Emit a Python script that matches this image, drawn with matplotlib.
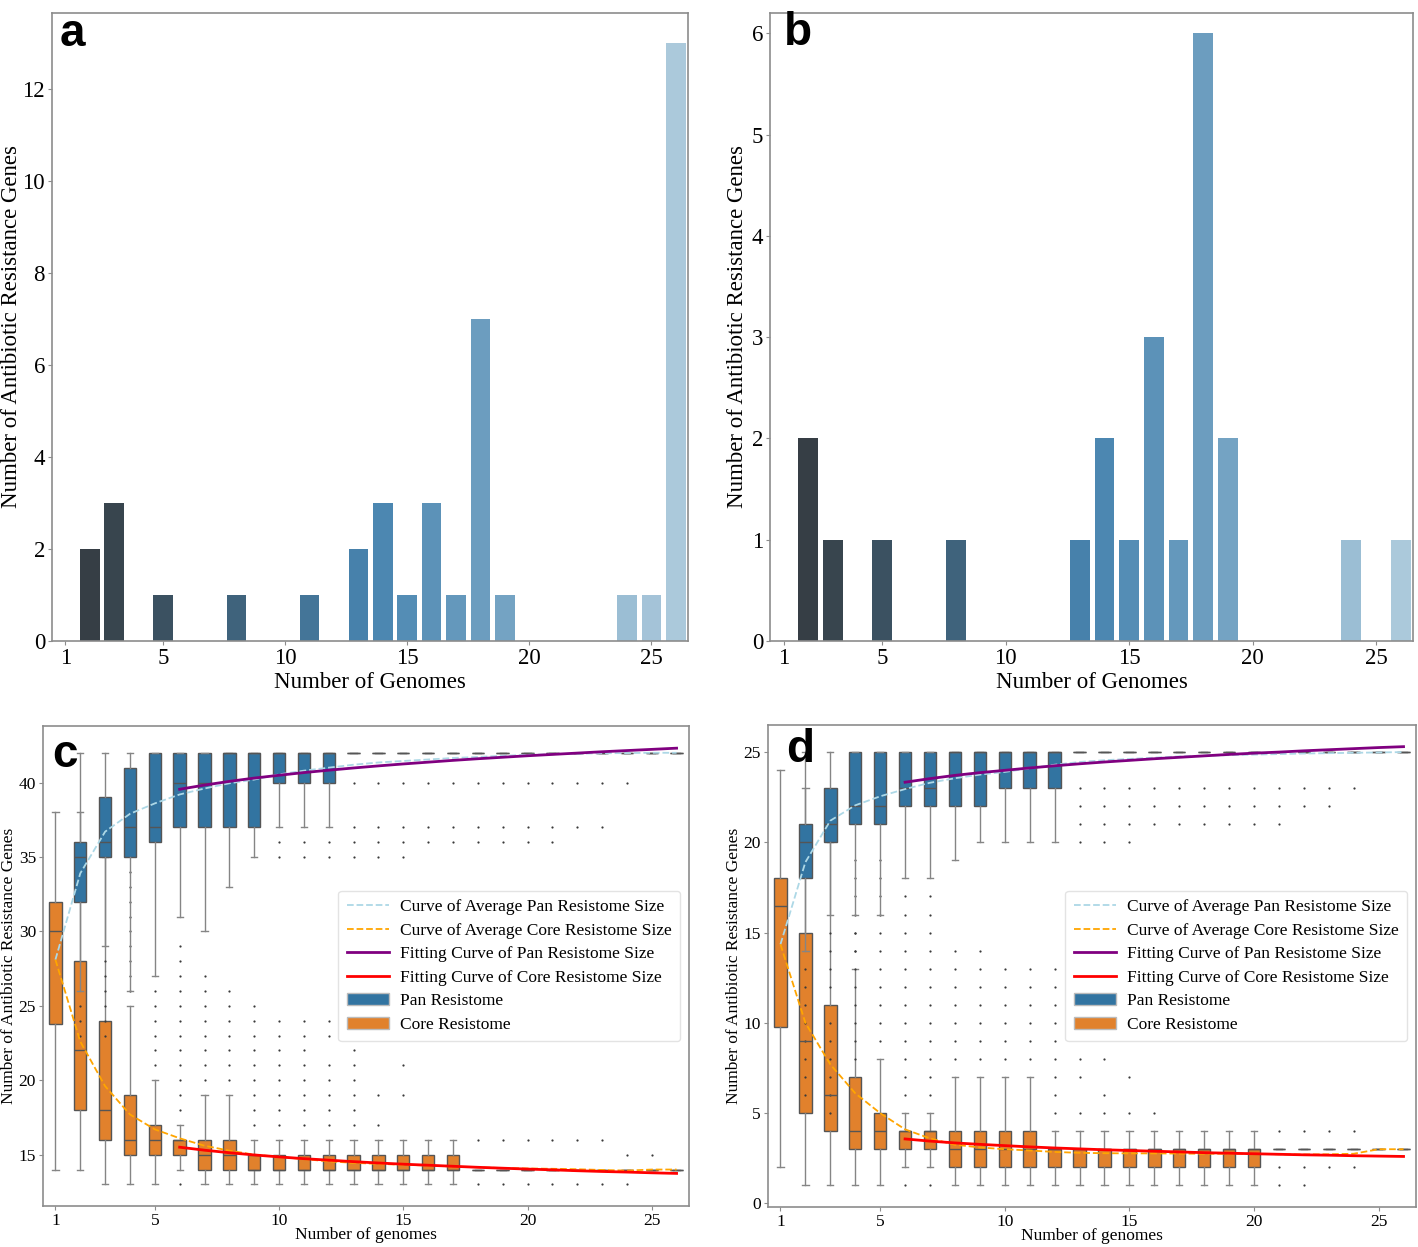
import matplotlib
matplotlib.use("Agg")
import matplotlib.pyplot as plt
import matplotlib.patches as mpatches
import matplotlib.lines as mlines
import seaborn as sns

# ---------------- data: panels a, b ----------------
genomes = list(range(1, 27))
a_counts = [0, 2, 3, 0, 1, 0, 0, 1, 0, 0, 1, 0, 2, 3, 1, 3, 1, 7, 1, 0, 0, 0, 0, 1, 1, 13]
b_counts = [0, 2, 1, 0, 1, 0, 0, 1, 0, 0, 0, 0, 1, 2, 1, 3, 1, 6, 2, 0, 0, 0, 0, 1, 0, 1]

# ---------------- data: panel c ----------------
c_core_q1 = [23.75, 18, 16, 15, 15, 15, 14, 14, 14, 14, 14, 14, 14, 14, 14, 14, 14, 14, 14, 14, 14, 14, 14, 14, 14, 14]
c_core_med = [30, 22, 18, 16, 16, 16, 15, 15, 14, 14, 14, 14, 14, 14, 14, 14, 14, 14, 14, 14, 14, 14, 14, 14, 14, 14]
c_core_q3 = [32, 28, 24, 19, 17, 16, 16, 16, 15, 15, 15, 15, 15, 15, 15, 15, 15, 14, 14, 14, 14, 14, 14, 14, 14, 14]
c_core_lo = [14, 14, 13, 13, 13, 14, 13, 13, 13, 13, 13, 13, 13, 13, 13, 13, 13, 14, 14, 14, 14, 14, 14, 14, 14, 14]
c_core_hi = [38, 38, 35, 25, 20, 17, 19, 19, 16, 16, 16, 16, 16, 16, 16, 16, 16, 14, 14, 14, 14, 14, 14, 14, 14, 14]
c_core_fliers = [
    [], [], [],
    [26, 27, 28, 29, 30, 31, 32, 33, 34],
    [21, 22, 23, 24, 25, 26],
    [13, 18, 19, 20, 21, 22, 23, 24, 25, 26, 27, 28, 29],
    [20, 21, 22, 23, 24, 25, 26, 27],
    [20, 21, 22, 23, 24, 25, 26],
    [17, 18, 19, 20, 21, 22, 23, 24, 25],
    [17, 18, 19, 20, 21, 22, 23, 24],
    [17, 18, 19, 20, 21, 22, 23, 24],
    [17, 18, 19, 20, 21, 23, 24],
    [17, 18, 19, 20, 21, 22],
    [17, 19],
    [19, 21],
    [], [],
    [13, 16], [13, 16], [13, 16], [13, 16], [13, 16], [13, 16],
    [13, 15], [15], [],
]
# pan resistome, genomes 2..26
c_pan_q1 = [32, 35, 35, 36, 37, 37, 37, 37, 40, 40, 40, 42, 42, 42, 42, 42, 42, 42, 42, 42, 42, 42, 42, 42, 42]
c_pan_med = [35, 36, 37, 37, 40, 40, 42, 42, 42, 42, 42, 42, 42, 42, 42, 42, 42, 42, 42, 42, 42, 42, 42, 42, 42]
c_pan_q3 = [36, 39, 41, 42, 42, 42, 42, 42, 42, 42, 42, 42, 42, 42, 42, 42, 42, 42, 42, 42, 42, 42, 42, 42, 42]
c_pan_lo = [26, 29, 26, 27, 31, 30, 33, 35, 37, 37, 37, 42, 42, 42, 42, 42, 42, 42, 42, 42, 42, 42, 42, 42, 42]
c_pan_hi = [42] * 25
c_pan_fliers = [
    [23, 24, 25], [23, 24, 25, 26, 27, 28], [], [], [], [], [], [],
    [35, 36], [35, 36], [35, 36],
    [35, 36, 37, 40], [35, 36, 37, 40], [35, 36, 37, 40],
    [36, 37, 40], [36, 37, 40], [36, 37, 40], [36, 37, 40], [36, 37, 40], [36, 37, 40],
    [37, 40], [37, 40], [40], [], [],
]
c_pan_avg = [28.1, 33.9, 36.7, 37.9, 38.6, 39.2, 39.6, 39.95, 40.2, 40.55, 40.8, 41.0, 41.2,
             41.35, 41.45, 41.55, 41.65, 41.72, 41.8, 41.86, 41.9, 41.94, 41.97, 41.98, 42.0, 42.0]
c_core_avg = [28.1, 22.6, 19.6, 17.7, 16.7, 16.1, 15.6, 15.27, 15.0, 14.85, 14.7, 14.55, 14.45,
              14.38, 14.32, 14.27, 14.2, 14.15, 14.1, 14.07, 14.05, 14.02, 13.97, 13.93, 14.0, 14.0]
fit_genomes = list(range(6, 27))
c_pan_fit = [39.55, 39.83, 40.08, 40.30, 40.49, 40.67, 40.83, 40.98, 41.12, 41.25, 41.37,
             41.49, 41.60, 41.70, 41.80, 41.89, 41.98, 42.07, 42.15, 42.23, 42.31]
c_core_fit = [15.50, 15.30, 15.13, 14.98, 14.85, 14.73, 14.63, 14.53, 14.44, 14.36, 14.29,
              14.22, 14.15, 14.09, 14.03, 13.98, 13.92, 13.87, 13.83, 13.78, 13.74]

# ---------------- data: panel d ----------------
d_core_q1 = [9.75, 5, 4, 3, 3, 3, 3, 2, 2, 2, 2, 2, 2, 2, 2, 2, 2, 2, 2, 2, 3, 3, 3, 3, 3, 3]
d_core_med = [16.5, 9, 6, 4, 4, 4, 4, 3, 3, 3, 3, 3, 3, 3, 3, 3, 3, 3, 3, 3, 3, 3, 3, 3, 3, 3]
d_core_q3 = [18, 15, 11, 7, 5, 4, 4, 4, 4, 4, 4, 3, 3, 3, 3, 3, 3, 3, 3, 3, 3, 3, 3, 3, 3, 3]
d_core_lo = [2, 1, 1, 1, 1, 2, 2, 1, 1, 1, 1, 1, 1, 1, 1, 1, 1, 1, 1, 1, 3, 3, 3, 3, 3, 3]
d_core_hi = [24, 23, 20, 13, 8, 5, 5, 7, 7, 7, 7, 4, 4, 4, 4, 4, 4, 4, 4, 4, 3, 3, 3, 3, 3, 3]
d_core_fliers = [
    [], [], [],
    [14, 15, 16, 17, 18, 19],
    [9, 10, 11, 12, 13, 14, 15, 16, 17, 18, 19],
    [1, 6, 7, 8, 9, 10, 11, 12, 13, 14, 15, 16, 17],
    [1, 6, 7, 8, 9, 10, 11, 12, 13, 14, 15, 16, 17],
    [8, 9, 10, 11, 12, 13, 14],
    [8, 9, 10, 11, 12, 13, 14],
    [8, 9, 10, 11, 12, 13],
    [8, 9, 10, 11, 12, 13],
    [5, 6, 7, 8, 9, 10, 11, 12, 13],
    [5, 7, 8], [5, 6, 8], [5, 7], [5],
    [], [], [], [],
    [1, 2, 4], [1, 2, 4], [2, 4], [2, 4], [], [],
]
d_pan_q1 = [18, 20, 21, 21, 22, 22, 22, 22, 23, 23, 23, 25, 25, 25, 25, 25, 25, 25, 25, 25, 25, 25, 25, 25, 25]
d_pan_med = [20, 21, 22, 22, 23, 23, 25, 25, 25, 25, 25, 25, 25, 25, 25, 25, 25, 25, 25, 25, 25, 25, 25, 25, 25]
d_pan_q3 = [21, 23, 25, 25, 25, 25, 25, 25, 25, 25, 25, 25, 25, 25, 25, 25, 25, 25, 25, 25, 25, 25, 25, 25, 25]
d_pan_lo = [14, 16, 16, 16, 18, 18, 19, 20, 20, 20, 20, 25, 25, 25, 25, 25, 25, 25, 25, 25, 25, 25, 25, 25, 25]
d_pan_hi = [25] * 25
d_pan_fliers = [
    [6, 7, 8, 9, 10, 11, 12, 13],
    [5, 6, 7, 8, 9, 10, 12, 13, 14, 15],
    [8, 9, 10, 11, 12, 13, 14, 15],
    [], [], [], [], [], [], [], [],
    [20, 21, 22, 23], [20, 21, 22, 23], [20, 21, 22, 23],
    [21, 22, 23], [21, 22, 23], [21, 22, 23], [21, 22, 23], [21, 22, 23], [21, 22, 23],
    [22, 23], [22, 23], [23], [], [],
]
d_pan_avg = [14.35, 18.9, 21.2, 22.05, 22.55, 22.95, 23.3, 23.55, 23.75, 23.9, 24.1, 24.3, 24.45,
             24.55, 24.62, 24.69, 24.76, 24.8, 24.83, 24.86, 24.89, 24.92, 24.94, 24.96, 24.98, 25.0]
d_core_avg = [14.35, 10.0, 7.7, 6.1, 5.0, 4.1, 3.6, 3.25, 3.1, 3.0, 2.93, 2.85, 2.8,
              2.78, 2.77, 2.77, 2.76, 2.75, 2.75, 2.75, 2.72, 2.71, 2.72, 2.75, 3.0, 3.0]
d_pan_fit = [23.33, 23.53, 23.71, 23.86, 23.99, 24.12, 24.24, 24.35, 24.45, 24.54, 24.63,
             24.71, 24.79, 24.87, 24.94, 25.00, 25.07, 25.13, 25.19, 25.25, 25.30]
d_core_fit = [3.57, 3.45, 3.35, 3.27, 3.20, 3.13, 3.07, 3.02, 2.97, 2.93, 2.89,
              2.85, 2.81, 2.78, 2.75, 2.72, 2.69, 2.67, 2.64, 2.62, 2.60]

legend_labels = ["Curve of Average Pan Resistome Size", "Curve of Average Core Resistome Size",
                 "Fitting Curve of Pan Resistome Size", "Fitting Curve of Core Resistome Size",
                 "Pan Resistome", "Core Resistome"]

# ---------------- style ----------------
plt.rcParams['font.family'] = ['Liberation Serif', 'DejaVu Serif']
W, H = 1418, 1247
fig = plt.figure(figsize=(W / 100, H / 100), dpi=100)

SPINE = '#8c8c8c'
PAN = '#3274a1'
CORE = '#e1812c'
EDGE = '#555555'
WHISK = '#858585'


def add_ax(left, right, top, bottom):
    return fig.add_axes([left / W, 1 - bottom / H, (right - left) / W, (bottom - top) / H])


def style(ax, fs):
    for s in ax.spines.values():
        s.set_color(SPINE)
        s.set_linewidth(1.2)
    ax.tick_params(labelsize=fs, length=3, width=0.8, color=SPINE, pad=2)


pal = sns.color_palette("Blues_d", len(genomes))[::-1]
bar_colors = [sns.desaturate(c, 0.75) for c in pal]


def bar_panel(ax, counts, ymax, yticks, label, lab_x, lab_y, ylab_x):
    ax.bar(genomes, counts, width=0.8, color=bar_colors)
    ax.set_xlim(0.45, 26.5)
    ax.set_ylim(0, ymax)
    ax.set_xticks([1, 5, 10, 15, 20, 25])
    ax.set_yticks(yticks)
    ax.set_xlabel("Number of Genomes", fontsize=16.5, labelpad=2)
    ax.set_ylabel("Number of Antibiotic Resistance Genes", fontsize=16.5)
    ax.yaxis.set_label_coords(ylab_x, 0.5)
    style(ax, 16.5)
    fig.text(lab_x / W, 1 - lab_y / H, label, fontsize=33, fontweight='bold',
             family='Liberation Sans', va='top', ha='left')


ax_a = add_ax(52, 688, 13, 641)
bar_panel(ax_a, a_counts, 13.65, list(range(0, 13, 2)), 'a', 60, 12, -0.047)
ax_b = add_ax(770, 1413, 13, 641)
bar_panel(ax_b, b_counts, 6.2, list(range(0, 7)), 'b', 784, 11, -0.034)


def make_stats(q1, med, q3, lo, hi, fl):
    return [dict(q1=a, med=m, q3=b, whislo=l, whishi=h, fliers=f)
            for a, m, b, l, h, f in zip(q1, med, q3, lo, hi, fl)]


def box_panel(ax, core, pan, pan_avg, core_avg, pan_fit, core_fit, ylim, yticks,
              label, lab_x, lab_y, ylab_x, xlab_y):
    common = dict(widths=0.5, patch_artist=True, manage_ticks=False,
                  whiskerprops=dict(color=WHISK, lw=1.0),
                  capprops=dict(color=WHISK, lw=1.0),
                  medianprops=dict(color=EDGE, lw=1.0),
                  flierprops=dict(marker='o', markersize=1.6, markerfacecolor='#3a3a3a',
                                  markeredgecolor='none'))
    ax.bxp(core, positions=genomes, boxprops=dict(facecolor=CORE, edgecolor=EDGE, lw=1.0), **common)
    ax.bxp(pan, positions=genomes[1:], boxprops=dict(facecolor=PAN, edgecolor=EDGE, lw=1.0), **common)
    ax.plot(genomes, pan_avg, color='lightblue', ls='--', lw=1.3, zorder=4)
    ax.plot(genomes, core_avg, color='orange', ls='--', lw=1.3, zorder=4)
    ax.plot(fit_genomes, pan_fit, color='purple', lw=2, zorder=5)
    ax.plot(fit_genomes, core_fit, color='red', lw=2, zorder=5)
    ax.set_xlim(0.5, 26.5)
    ax.set_ylim(*ylim)
    ax.set_xticks([1, 5, 10, 15, 20, 25])
    ax.set_yticks(yticks)
    ax.set_xlabel("Number of genomes", fontsize=12.5)
    ax.set_ylabel("Number of Antibiotic Resistance Genes", fontsize=12.5)
    ax.yaxis.set_label_coords(ylab_x, 0.5)
    ax.xaxis.set_label_coords(0.5, xlab_y)
    style(ax, 12.5)
    handles = [mlines.Line2D([], [], color='lightblue', ls='--', lw=1.3),
               mlines.Line2D([], [], color='orange', ls='--', lw=1.3),
               mlines.Line2D([], [], color='purple', lw=2),
               mlines.Line2D([], [], color='red', lw=2),
               mpatches.Patch(facecolor=PAN, edgecolor='#bbbbbb'),
               mpatches.Patch(facecolor=CORE, edgecolor='#bbbbbb')]
    leg = ax.legend(handles, legend_labels, loc='center right', bbox_to_anchor=(1.0, 0.5),
                    fontsize=12.5, handlelength=2.4, handletextpad=0.65, labelspacing=0.42,
                    frameon=True, borderpad=0.5)
    leg.get_frame().set_edgecolor('#dddddd')
    fig.text(lab_x / W, 1 - lab_y / H, label, fontsize=33, fontweight='bold',
             family='Liberation Sans', va='top', ha='left')


ax_c = add_ax(43, 689, 726, 1206)
box_panel(ax_c,
          make_stats(c_core_q1, c_core_med, c_core_q3, c_core_lo, c_core_hi, c_core_fliers),
          make_stats(c_pan_q1, c_pan_med, c_pan_q3, c_pan_lo, c_pan_hi, c_pan_fliers),
          c_pan_avg, c_core_avg, c_pan_fit, c_core_fit,
          (11.55, 43.8), [15, 20, 25, 30, 35, 40], 'c', 52, 733, -0.040, -0.044)

ax_d = add_ax(768, 1416, 725, 1207)
box_panel(ax_d,
          make_stats(d_core_q1, d_core_med, d_core_q3, d_core_lo, d_core_hi, d_core_fliers),
          make_stats(d_pan_q1, d_pan_med, d_pan_q3, d_pan_lo, d_pan_hi, d_pan_fliers),
          d_pan_avg, d_core_avg, d_pan_fit, d_core_fit,
          (-0.2, 26.5), [0, 5, 10, 15, 20, 25], 'd', 786, 728, -0.040, -0.044)

fig.savefig("out.png", dpi=100)
